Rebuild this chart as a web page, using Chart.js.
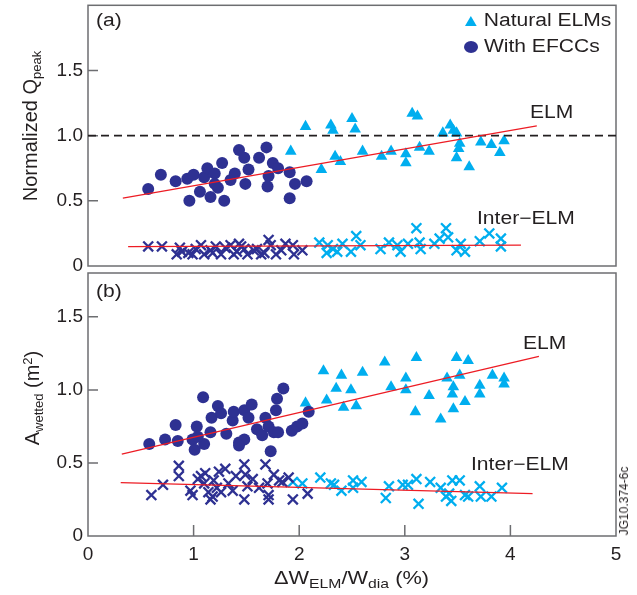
<!DOCTYPE html>
<html>
<head>
<meta charset="utf-8">
<script src="https://cdn.jsdelivr.net/npm/chart.js@4.4.0/dist/chart.umd.min.js"></script>
<style>
  body { margin: 0; background: #fff; font-family: "Liberation Sans", Arial, sans-serif; color: #231f20; }
  #wrap { position: relative; width: 637px; height: 595px; overflow: hidden; }
  canvas { position: absolute; left: 0; }
  .lbl { position: absolute; font-size: 18px; line-height: 18px; white-space: nowrap; transform-origin: left center; transform: scaleX(1.17); }
  .rot { position: absolute; white-space: nowrap; font-size: 20px; line-height: 20px; transform: translate(-50%, -50%) rotate(-90deg); }
  .s { font-size: 13px; vertical-align: -4px; }
  .p { font-size: 13px; vertical-align: 7px; }
  .tri { display: inline-block; width: 0; height: 0; border-left: 5.5px solid transparent; border-right: 5.5px solid transparent; border-bottom: 10px solid #00aeef; margin-right: 6px; vertical-align: 0; }
  .dot { display: inline-block; width: 12px; height: 12px; border-radius: 50%; background: #2e3192; margin-right: 5px; vertical-align: -1px; }
</style>
</head>
<body>
<div id="wrap">
  <canvas id="topChart" width="637" height="280" style="top:-4px"></canvas>
  <canvas id="bottomChart" width="637" height="333" style="top:262px"></canvas>

  <div class="lbl" style="left:96px;top:11px">(a)</div>
  <div class="lbl" style="left:96px;top:282px">(b)</div>
  <div class="lbl" style="left:465px;top:11px"><span class="tri"></span>Natural ELMs</div>
  <div class="lbl" style="left:464px;top:37px"><span class="dot"></span>With EFCCs</div>
  <div class="lbl" style="left:530px;top:103px">ELM</div>
  <div class="lbl" style="left:477px;top:209px">Inter&minus;ELM</div>
  <div class="lbl" style="left:523px;top:334px">ELM</div>
  <div class="lbl" style="left:471px;top:455px">Inter&minus;ELM</div>

  <div class="rot" style="left:33px;top:126px">Normalized Q<span class="s">peak</span></div>
  <div class="rot" style="left:33px;top:398px">A<span class="s">wetted</span> (m<span class="p">2</span>)</div>
  <div class="lbl" style="left:274px;top:569px;transform:scaleX(1.21)">&Delta;W<span class="s">ELM</span>/W<span class="s">dia</span> (%)</div>
  <div class="rot" style="left:624px;top:501px;font-size:12px;line-height:12px">JG10.374-6c</div>
</div>

<script>
const NAVY = '#2e3192';
const CYAN = '#00aeef';
const RED = '#ed1c24';

const xTicks = [0, 1, 2, 3, 4, 5];
const yTicks = [0, 0.5, 1.0, 1.5];

// (a) normalized peak heat flux
const topEfccX = [0.57, 0.69, 0.83, 0.94, 1.0, 0.96, 1.06, 1.10, 1.13, 1.16, 1.20, 1.23, 1.27, 1.29, 1.35, 1.39, 1.43, 1.48, 1.49, 1.52, 1.62, 1.69, 1.71, 1.70, 1.75, 1.80, 1.91, 1.96, 1.91, 2.07, 1.20];
const topEfccY = [0.59, 0.70, 0.65, 0.67, 0.70, 0.50, 0.57, 0.68, 0.75, 0.53, 0.71, 0.60, 0.79, 0.50, 0.66, 0.71, 0.89, 0.83, 0.63, 0.74, 0.83, 0.91, 0.69, 0.61, 0.79, 0.75, 0.72, 0.63, 0.52, 0.65, 0.63];

const topNatX = [1.92, 2.06, 2.21, 2.30, 2.32, 2.34, 2.39, 2.50, 2.53, 2.60, 2.78, 2.87, 3.01, 3.01, 3.07, 3.12, 3.14, 3.23, 3.36, 3.43, 3.46, 3.49, 3.52, 3.51, 3.49, 3.61, 3.72, 3.82, 3.94, 3.90];
const topNatY = [0.88, 1.07, 0.74, 1.08, 1.04, 0.84, 0.80, 1.13, 1.05, 0.88, 0.84, 0.88, 0.86, 0.79, 1.17, 1.15, 0.91, 0.88, 1.02, 1.08, 1.04, 1.02, 0.94, 0.90, 0.83, 0.76, 0.95, 0.93, 0.96, 0.87];

const topInterEfccX = [0.57, 0.70, 0.84, 0.89, 0.95, 1.02, 1.07, 1.10, 1.16, 1.21, 1.26, 1.30, 1.35, 1.38, 1.43, 1.48, 1.51, 1.57, 1.64, 1.71, 1.73, 1.78, 1.83, 1.87, 1.94, 1.95, 2.03, 0.87, 0.99, 1.18, 1.41, 1.45, 1.60, 1.67];
const topInterEfccY = [0.15, 0.15, 0.09, 0.11, 0.10, 0.13, 0.16, 0.09, 0.12, 0.15, 0.09, 0.14, 0.16, 0.09, 0.17, 0.13, 0.09, 0.12, 0.09, 0.20, 0.16, 0.09, 0.12, 0.17, 0.16, 0.09, 0.12, 0.14, 0.09, 0.10, 0.11, 0.15, 0.13, 0.10];

const topInterNatX = [2.19, 2.27, 2.32, 2.36, 2.41, 2.49, 2.54, 2.58, 2.77, 2.85, 2.93, 2.96, 3.03, 3.11, 3.14, 3.15, 3.28, 3.33, 3.39, 3.41, 3.49, 3.53, 3.57, 3.71, 3.80, 3.91, 3.91, 2.26];
const topInterNatY = [0.18, 0.16, 0.13, 0.11, 0.17, 0.11, 0.23, 0.16, 0.13, 0.18, 0.16, 0.11, 0.17, 0.29, 0.18, 0.13, 0.17, 0.21, 0.29, 0.22, 0.12, 0.17, 0.11, 0.19, 0.25, 0.21, 0.15, 0.10];

const topElmFitX = [0.33, 4.25];
const topElmFitY = [0.52, 1.075];
const topInterFitX = [0.38, 4.10];
const topInterFitY = [0.148, 0.16];
const refLineX = [0, 5];
const refLineY = [1, 1];

// (b) wetted area
const botEfccX = [0.58, 0.73, 0.83, 0.85, 0.99, 1.01, 1.03, 1.09, 1.10, 1.16, 1.17, 1.23, 1.26, 1.31, 1.37, 1.38, 1.43, 1.48, 1.48, 1.52, 1.55, 1.60, 1.65, 1.68, 1.71, 1.73, 1.76, 1.78, 1.79, 1.80, 1.85, 1.93, 1.98, 2.03, 2.09, 1.43, 1.04];
const botEfccY = [0.63, 0.66, 0.76, 0.65, 0.66, 0.59, 0.75, 0.95, 0.63, 0.71, 0.81, 0.89, 0.84, 0.70, 0.79, 0.85, 0.64, 0.66, 0.86, 0.81, 0.90, 0.73, 0.69, 0.81, 0.75, 0.58, 0.71, 0.86, 0.94, 0.71, 1.01, 0.72, 0.75, 0.77, 0.85, 0.62, 0.68];

const botNatX = [2.06, 2.23, 2.26, 2.35, 2.40, 2.42, 2.49, 2.54, 2.60, 2.81, 2.87, 3.01, 3.01, 3.11, 3.10, 3.23, 3.34, 3.40, 3.46, 3.45, 3.49, 3.52, 3.46, 3.57, 3.60, 3.71, 3.71, 3.83, 3.94, 3.94];
const botNatY = [0.91, 1.13, 0.93, 1.01, 1.10, 0.88, 1.00, 0.89, 1.12, 1.19, 1.02, 1.08, 1.00, 1.22, 0.85, 0.96, 0.80, 1.08, 1.02, 0.97, 1.22, 1.10, 0.87, 0.92, 1.20, 1.03, 0.97, 1.10, 1.08, 1.04];

const botInterEfccX = [0.60, 0.71, 0.86, 0.86, 0.97, 0.99, 1.07, 1.10, 1.11, 1.14, 1.16, 1.19, 1.22, 1.24, 1.30, 1.33, 1.37, 1.40, 1.48, 1.48, 1.49, 1.51, 1.68, 1.70, 1.71, 1.71, 1.76, 1.81, 1.84, 1.94, 1.90, 2.08, 1.26, 1.04, 1.18, 1.56, 1.62];
const botInterEfccY = [0.28, 0.35, 0.48, 0.41, 0.31, 0.28, 0.41, 0.36, 0.43, 0.30, 0.25, 0.38, 0.33, 0.44, 0.46, 0.36, 0.31, 0.41, 0.25, 0.49, 0.42, 0.34, 0.49, 0.36, 0.28, 0.25, 0.42, 0.38, 0.37, 0.25, 0.40, 0.29, 0.30, 0.39, 0.27, 0.39, 0.33];

const botInterNatX = [1.94, 2.03, 2.20, 2.30, 2.33, 2.40, 2.51, 2.51, 2.59, 2.82, 2.85, 2.98, 3.03, 3.11, 3.13, 3.24, 3.34, 3.42, 3.44, 3.45, 3.52, 3.57, 3.60, 3.71, 3.72, 3.82, 3.92, 3.39];
const botInterNatY = [0.37, 0.36, 0.40, 0.36, 0.35, 0.31, 0.38, 0.33, 0.37, 0.26, 0.34, 0.35, 0.35, 0.39, 0.22, 0.37, 0.33, 0.29, 0.24, 0.38, 0.38, 0.28, 0.27, 0.34, 0.27, 0.27, 0.33, 0.27];

const botElmFitX = [0.32, 4.27];
const botElmFitY = [0.56, 1.23];
const botInterFitX = [0.31, 4.21];
const botInterFitY = [0.365, 0.29];

const pts = (xs, ys) => xs.map((x, i) => ({ x, y: ys[i] }));

function line(xs, ys, color, width, dash) {
  return {
    data: pts(xs, ys), showLine: true, pointRadius: 0,
    borderColor: color, borderWidth: width, borderDash: dash || [], fill: false
  };
}
function circles(xs, ys) {
  return { data: pts(xs, ys), pointStyle: 'circle', pointRadius: 6, backgroundColor: NAVY, borderWidth: 0 };
}
function triangles(xs, ys) {
  return { data: pts(xs, ys), pointStyle: 'triangle', pointRadius: 6.7, backgroundColor: CYAN, borderWidth: 0 };
}
function crosses(xs, ys, color) {
  return { data: pts(xs, ys), pointStyle: 'crossRot', pointRadius: 7, borderColor: color, borderWidth: 2.3 };
}

// frame box and inward tick marks
const framePlugin = {
  id: 'frame',
  beforeDatasetsDraw(chart, args, opts) {
    const { ctx, chartArea: a, scales } = chart;
    ctx.save();
    ctx.strokeStyle = '#6d6e71';
    ctx.lineWidth = 1.5;
    ctx.strokeRect(a.left, a.top, a.right - a.left, a.bottom - a.top);
    ctx.beginPath();
    scales.y.ticks.forEach(t => {
      const py = scales.y.getPixelForValue(t.value);
      if (py > a.bottom - 2) return;
      ctx.moveTo(a.left, py);
      ctx.lineTo(a.left + 10, py);
    });
    if (opts.xTicks) {
      scales.x.ticks.forEach(t => {
        const px = scales.x.getPixelForValue(t.value);
        if (px < a.left + 2 || px > a.right - 2) return;
        ctx.moveTo(px, a.bottom);
        ctx.lineTo(px, a.bottom - 11);
      });
    }
    ctx.stroke();
    ctx.restore();
  }
};

const tickFont = { family: '"Liberation Sans", Arial, sans-serif', size: 19 };

function noPad(s) {
  s.paddingTop = 0; s.paddingBottom = 0; s.paddingLeft = 0; s.paddingRight = 0;
}

function makeChart(id, datasets, yMax, showX, padding) {
  return new Chart(document.getElementById(id), {
    type: 'scatter',
    data: { datasets },
    options: {
      responsive: false,
      animation: false,
      layout: { padding },
      plugins: { legend: { display: false }, tooltip: { enabled: false }, frame: { xTicks: showX } },
      scales: {
        x: {
          type: 'linear', min: 0, max: 5, display: showX,
          grid: { display: false, drawTicks: false }, border: { display: false },
          afterBuildTicks: s => { s.ticks = xTicks.map(v => ({ value: v })); },
          afterFit: s => { s.height = showX ? 59 : 0; noPad(s); },
          ticks: { font: tickFont, color: '#231f20', padding: 7, callback: v => String(v) }
        },
        y: {
          type: 'linear', min: 0, max: yMax,
          grid: { display: false, drawTicks: false }, border: { display: false },
          afterBuildTicks: s => { s.ticks = yTicks.map(v => ({ value: v })); },
          afterFit: s => { s.width = 88; noPad(s); },
          ticks: { font: tickFont, color: '#231f20', padding: 5, callback: v => (v === 0 ? '0' : v.toFixed(1)) }
        }
      }
    },
    plugins: [framePlugin]
  });
}

makeChart('topChart', [
  line(topElmFitX, topElmFitY, RED, 1.3),
  line(topInterFitX, topInterFitY, RED, 1.3),
  line(refLineX, refLineY, '#231f20', 1.8, [8, 5]),
  crosses(topInterEfccX, topInterEfccY, NAVY),
  crosses(topInterNatX, topInterNatY, CYAN),
  circles(topEfccX, topEfccY),
  triangles(topNatX, topNatY)
], 2.0, false, { top: 2, right: 21, bottom: 10, left: 0 });

makeChart('bottomChart', [
  line(botElmFitX, botElmFitY, RED, 1.3),
  line(botInterFitX, botInterFitY, RED, 1.3),
  crosses(botInterEfccX, botInterEfccY, NAVY),
  crosses(botInterNatX, botInterNatY, CYAN),
  circles(botEfccX, botEfccY),
  triangles(botNatX, botNatY)
], 1.8, true, { top: 11, right: 21, bottom: 0, left: 0 });
</script>
</body>
</html>
